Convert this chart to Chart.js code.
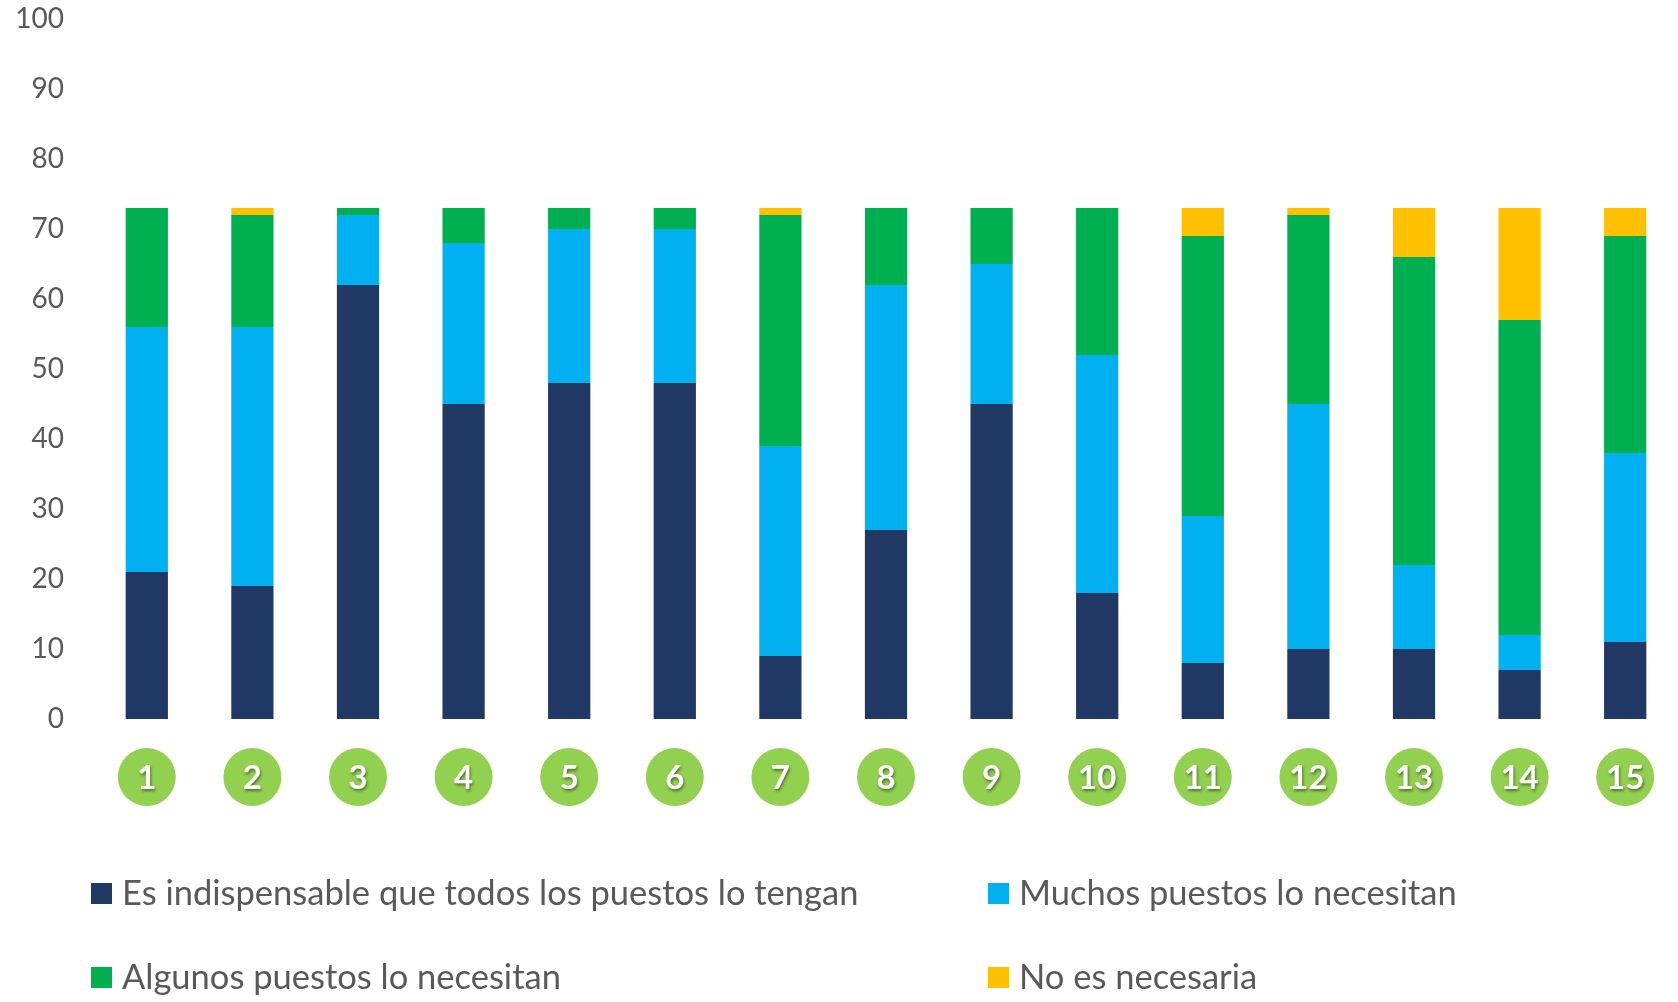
<!DOCTYPE html>
<html>
<head>
<meta charset="utf-8">
<script src="https://cdn.jsdelivr.net/npm/chart.js@4"></script>
<style>
  html, body { margin: 0; padding: 0; background: #fff; }
  #wrap { width: 1678px; height: 1002px; }
</style>
</head>
<body>
<div id="wrap"><canvas id="chart" width="1678" height="1002"></canvas></div>
<script>
// categories (numbered circles under each bar)
const categories = ['1','2','3','4','5','6','7','8','9','10','11','12','13','14','15'];

// series values
const indispensable = [21, 19, 62, 45, 48, 48, 9, 27, 45, 18, 8, 10, 10, 7, 11];
const muchos        = [35, 37, 10, 23, 22, 22, 30, 35, 20, 34, 21, 35, 12, 5, 27];
const algunos       = [17, 16, 1, 5, 3, 3, 33, 11, 8, 21, 40, 27, 44, 45, 31];
const noNecesaria   = [0, 1, 0, 0, 0, 0, 1, 0, 0, 0, 4, 1, 7, 16, 4];

// y axis
const yTicks = [0, 10, 20, 30, 40, 50, 60, 70, 80, 90, 100];

const labels = [
  'Es indispensable que todos los puestos lo tengan',
  'Muchos puestos lo necesitan',
  'Algunos puestos lo necesitan',
  'No es necesaria'
];
const colors = ['#203864', '#00B0F0', '#00B050', '#FFC000'];

const FONT = 'Lato, "Open Sans", sans-serif';

// draws the green numbered circles under the bars
const circleLabels = {
  id: 'circleLabels',
  afterDraw(chart) {
    const ctx = chart.ctx;
    const xs = chart.scales.x;
    ctx.save();
    categories.forEach((c, i) => {
      const x = xs.getPixelForValue(i);
      const y = 777;
      ctx.beginPath();
      ctx.arc(x, y, 29, 0, Math.PI * 2);
      ctx.fillStyle = '#92D050';
      ctx.fill();
      ctx.shadowColor = 'rgba(0,0,0,0.45)';
      ctx.shadowOffsetX = 1;
      ctx.shadowOffsetY = 2;
      ctx.shadowBlur = 3;
      ctx.fillStyle = '#fff';
      ctx.font = 'bold 33px ' + FONT;
      ctx.textAlign = 'center';
      ctx.textBaseline = 'middle';
      ctx.fillText(c, x, y + 1);
      ctx.shadowColor = 'transparent';
    });
    ctx.restore();
  }
};

// legend in two columns at the bottom
const gridLegend = {
  id: 'gridLegend',
  afterDraw(chart) {
    const ctx = chart.ctx;
    const cols = [91, 988];
    const rows = [905, 989];
    ctx.save();
    ctx.font = '34.5px ' + FONT;
    ctx.textBaseline = 'alphabetic';
    ctx.textAlign = 'left';
    chart.data.datasets.forEach((ds, i) => {
      const x = cols[i % 2];
      const y = rows[Math.floor(i / 2)];
      ctx.fillStyle = ds.backgroundColor;
      ctx.fillRect(x, y - 22, 21, 21);
      ctx.fillStyle = '#595959';
      ctx.fillText(ds.label, x + 31, y);
    });
    ctx.restore();
  }
};

const datasets = [indispensable, muchos, algunos, noNecesaria].map((d, i) => ({
  label: labels[i],
  data: d,
  backgroundColor: colors[i],
  borderWidth: 0,
  categoryPercentage: 1,
  barPercentage: 0.4
}));

new Chart(document.getElementById('chart'), {
  type: 'bar',
  data: { labels: categories, datasets: datasets },
  options: {
    responsive: false,
    animation: false,
    devicePixelRatio: 1,
    layout: { padding: 0 },
    plugins: {
      legend: { display: false },
      tooltip: { enabled: false }
    },
    scales: {
      x: {
        stacked: true,
        grid: { display: false, drawTicks: false },
        border: { display: false },
        ticks: { display: false },
        afterFit(scale) { scale.height = 1002 - 719; }
      },
      y: {
        stacked: true,
        min: 0,
        max: 100,
        afterBuildTicks(scale) { scale.ticks = yTicks.map(v => ({ value: v })); },
        grid: { display: false, drawTicks: false },
        border: { display: false },
        ticks: {
          color: '#595959',
          font: { family: FONT, size: 28, lineHeight: 1.2 },
          padding: 30
        },
        afterFit(scale) {
          scale.width = 94;
          scale.paddingTop = 19;
        }
      }
    }
  },
  plugins: [circleLabels, gridLegend]
});
</script>
</body>
</html>
